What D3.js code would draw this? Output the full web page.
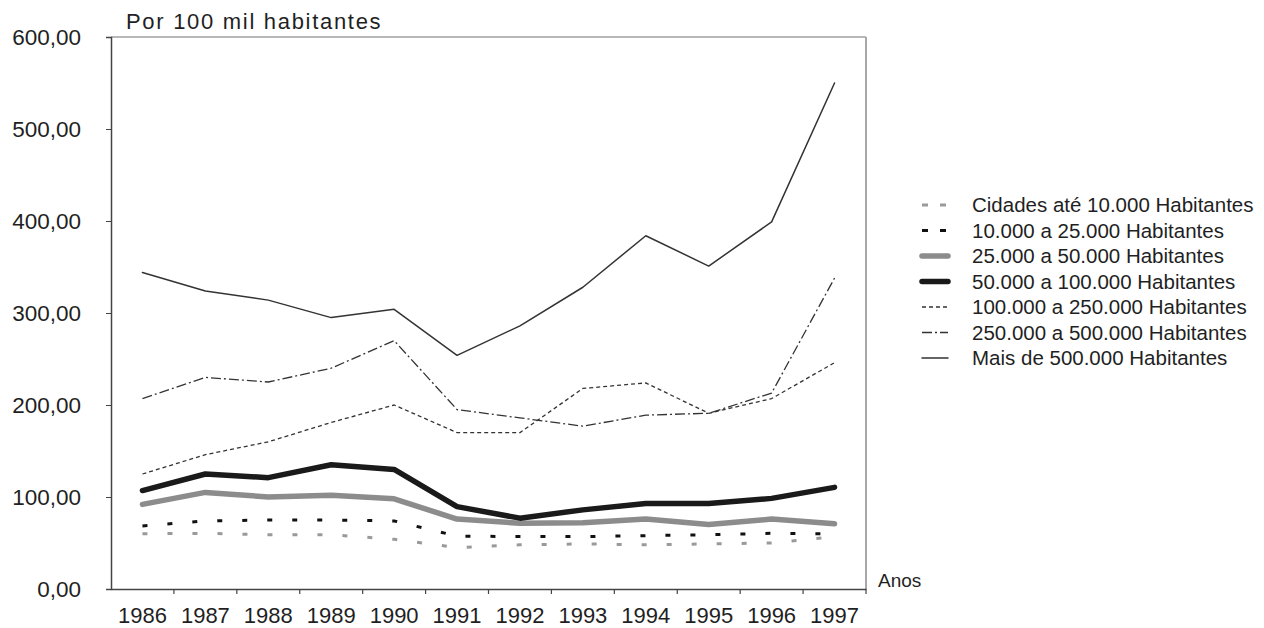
<!DOCTYPE html>
<html>
<head>
<meta charset="utf-8">
<script src="https://cdn.jsdelivr.net/npm/d3@7"></script>
<style>
  html, body { margin: 0; padding: 0; background: #fff; }
  svg { display: block; font-family: "Liberation Sans", Arial, sans-serif; }
</style>
</head>
<body>
<svg id="chart" width="1264" height="628"></svg>
<script>
// ---- data ----
const years = ["1986","1987","1988","1989","1990","1991","1992","1993","1994","1995","1996","1997"];
const yTicks = [0, 100, 200, 300, 400, 500, 600];
const seriesNames = [
  "Cidades até 10.000 Habitantes",
  "10.000 a 25.000 Habitantes",
  "25.000 a 50.000 Habitantes",
  "50.000 a 100.000 Habitantes",
  "100.000 a 250.000 Habitantes",
  "250.000 a 500.000 Habitantes",
  "Mais de 500.000 Habitantes"
];
const ate10k     = [60, 60.5, 59, 59, 54, 45, 48, 49, 48, 49, 50, 57];
const de10a25k   = [68.5, 74, 75, 75, 74, 57.5, 57, 57, 58, 59, 60.5, 60];
const de25a50k   = [92, 105, 100, 102, 98, 76, 71.5, 72, 76, 70, 76, 71];
const de50a100k  = [107, 125, 121, 135, 130, 89.5, 77, 86, 93, 93, 98.5, 110.5];
const de100a250k = [125, 146, 160, 181, 200, 170, 170, 218, 224, 191, 207, 246];
const de250a500k = [207, 230, 225, 240, 270, 195, 186, 177, 189, 191, 213, 338];
const mais500k   = [344, 324, 314, 295, 304, 254, 286, 328, 384, 351, 399, 550];
const seriesValues = [ate10k, de10a25k, de25a50k, de50a100k, de100a250k, de250a500k, mais500k];

// ---- styles (separate from data) ----
const styles = [
  { color: "#9a9a9a", width: 3,   dash: "5,20",     legendDash: "6,12" },
  { color: "#111111", width: 3,   dash: "5,20",     legendDash: "6,12" },
  { color: "#8c8c8c", width: 5.5, dash: null,       legendDash: null },
  { color: "#1a1a1a", width: 5.5, dash: null,       legendDash: null },
  { color: "#333333", width: 1.3, dash: "4,3",      legendDash: "4,3" },
  { color: "#333333", width: 1.3, dash: "10,3,2,3", legendDash: "10,3,2,3" },
  { color: "#333333", width: 1.5, dash: null,       legendDash: null }
];

const svg = d3.select("#chart");
const mLeft = 111, mRight = 866, mTop = 37, mBottom = 589;
const txt = "#1f1f24";

const x = d3.scaleBand().domain(years).range([mLeft, mRight]).paddingInner(0).paddingOuter(0);
const y = d3.scaleLinear().domain([0, 600]).range([mBottom, mTop]);

// frame (top and right borders)
svg.append("line").attr("x1", mLeft).attr("x2", mRight).attr("y1", mTop).attr("y2", mTop)
  .attr("stroke", "#a0a0a0").attr("stroke-width", 1.5);
svg.append("line").attr("x1", mRight).attr("x2", mRight).attr("y1", mTop).attr("y2", mBottom)
  .attr("stroke", "#a8a8a8").attr("stroke-width", 2);

// y axis
const yAxis = d3.axisLeft(y).tickValues(yTicks).tickSize(5).tickPadding(25)
  .tickFormat(d => d.toFixed(2).replace(".", ","));
const gy = svg.append("g").attr("transform", `translate(${mLeft},0)`).call(yAxis);
gy.select(".domain").attr("stroke", "#444").attr("stroke-width", 1.5);
gy.selectAll(".tick line").attr("stroke", "#444");
gy.selectAll(".tick text").attr("font-size", 22.5).attr("fill", txt)
  .attr("font-family", "'Liberation Sans', Arial, sans-serif");

// x axis (labels at band centers, ticks at band boundaries)
const xAxis = d3.axisBottom(x).tickSize(0).tickPadding(18);
const gx = svg.append("g").attr("transform", `translate(0,${mBottom})`).call(xAxis);
gx.select(".domain").attr("stroke", "#444").attr("stroke-width", 1.5);
gx.selectAll(".tick text").attr("font-size", 22).attr("fill", txt)
  .attr("font-family", "'Liberation Sans', Arial, sans-serif");
gx.selectAll(".bticks").data(years).enter().append("line")
  .attr("x1", d => x(d) + x.bandwidth()).attr("x2", d => x(d) + x.bandwidth())
  .attr("y1", 0).attr("y2", 5).attr("stroke", "#444").attr("stroke-width", 1.2);

// title and axis label
svg.append("text").attr("x", 126).attr("y", 29).attr("font-size", 22).attr("fill", txt)
  .attr("letter-spacing", 1.7).text("Por 100 mil habitantes");
svg.append("text").attr("x", 878).attr("y", 587).attr("font-size", 19).attr("fill", txt)
  .text("Anos");

// lines
const line = d3.line().x((d, i) => x(years[i]) + x.bandwidth() / 2).y(d => y(d));
seriesValues.forEach((vals, k) => {
  const s = styles[k];
  svg.append("path").datum(vals).attr("d", line)
    .attr("fill", "none").attr("stroke", s.color).attr("stroke-width", s.width)
    .attr("stroke-linejoin", "round")
    .attr("stroke-linecap", s.dash ? "butt" : "round")
    .attr("stroke-dasharray", s.dash);
});

// legend
const lg = svg.append("g");
seriesNames.forEach((name, k) => {
  const s = styles[k];
  const ly = 205 + k * 25.5;
  lg.append("line").attr("x1", 922).attr("x2", 948).attr("y1", ly).attr("y2", ly)
    .attr("stroke", s.color).attr("stroke-width", s.width)
    .attr("stroke-linecap", s.legendDash ? "butt" : "round")
    .attr("stroke-dasharray", s.legendDash);
  lg.append("text").attr("x", 972).attr("y", ly).attr("dy", "0.35em")
    .attr("font-size", 20.5).attr("fill", txt).text(name);
});
</script>
</body>
</html>
